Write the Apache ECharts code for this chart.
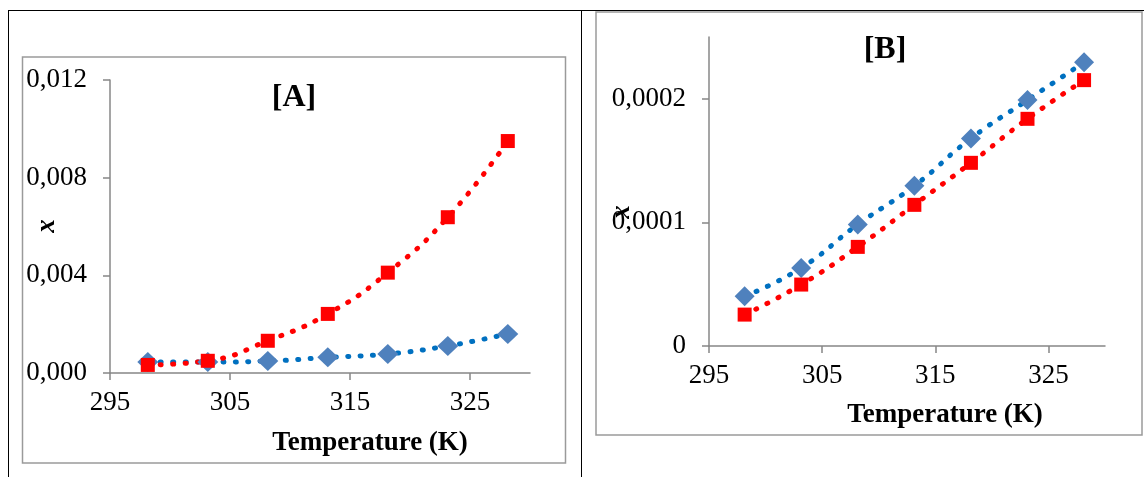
<!DOCTYPE html>
<html>
<head>
<meta charset="utf-8">
<script src="https://cdn.jsdelivr.net/npm/echarts@6/dist/echarts.min.js"></script>
<style>
html,body{margin:0;padding:0;background:#fff;}
#c{width:1144px;height:477px;}
</style>
</head>
<body>
<div id="c"></div>
<script>
// ---- data ----
const temps = [298.15, 303.15, 308.15, 313.15, 318.15, 323.15, 328.15];
const blueA = [0.00045, 0.00045, 0.00049, 0.00064, 0.00078, 0.00111, 0.0016];
const redA  = [0.00033, 0.0005, 0.00132, 0.00242, 0.00411, 0.00638, 0.0095];
const blueB = [0.0000402, 0.0000632, 0.0000983, 0.0001296, 0.0001679, 0.000199, 0.0002295];
const redB  = [0.0000254, 0.0000497, 0.0000802, 0.0001142, 0.0001482, 0.0001838, 0.0002151];
const xTicks  = [295, 305, 315, 325];
const yTicksA = [0, 0.004, 0.008, 0.012];
const yTicksB = [0, 0.0001, 0.0002];
const titleA = '[A]', titleB = '[B]';
const xName = 'Temperature (K)', yName = 'x';

const pairs = arr => temps.map((t, i) => [t, arr[i]]);
const FONT = '"Liberation Serif", "Times New Roman", serif';
const AX = '#878787';

function xAxis(gi) {
  return {
    type: 'value', gridIndex: gi, min: 295, max: 330,
    axisLine: {lineStyle: {color: AX, width: 1.5}},
    axisTick: {show: true, length: 7, lineStyle: {color: AX, width: 1.5}, customValues: xTicks},
    axisLabel: {customValues: xTicks, color: '#000', fontFamily: FONT, fontSize: 27, margin: 16},
    splitLine: {show: false}
  };
}
function yAxis(gi, max, ticks, fmt) {
  return {
    type: 'value', gridIndex: gi, min: 0, max: max,
    axisLine: {show: true, lineStyle: {color: AX, width: 1.5}},
    axisTick: {show: true, length: 7, lineStyle: {color: AX, width: 1.5}, customValues: ticks},
    axisLabel: {customValues: ticks, color: '#000', fontFamily: FONT, fontSize: 27, margin: 23, formatter: fmt},
    splitLine: {show: false}
  };
}
function trend(xi, data, color) {
  return {
    type: 'line', xAxisIndex: xi, yAxisIndex: xi, data: pairs(data), smooth: true,
    showSymbol: false, symbol: 'none', silent: true,
    lineStyle: {color: color, width: 5, type: [1, 11.5], cap: 'round'}, z: 2
  };
}
function pts(xi, data, color, symbol, size) {
  return {
    type: 'scatter', xAxisIndex: xi, yAxisIndex: xi, data: pairs(data),
    symbol: symbol, symbolSize: size, itemStyle: {color: color, opacity: 1}, z: 3
  };
}

const chart = echarts.init(document.getElementById('c'), null, {renderer: 'canvas'});
chart.setOption({
  animation: false,
  backgroundColor: '#fff',
  grid: [
    {left: 110, top: 80, width: 420, height: 293},
    {left: 709, top: 37, width: 396, height: 309}
  ],
  xAxis: [xAxis(0), xAxis(1)],
  yAxis: [
    yAxis(0, 0.012, yTicksA, v => v.toFixed(3).replace('.', ',')),
    yAxis(1, 0.00025, yTicksB, v => v === 0 ? '0' : v.toFixed(4).replace('.', ','))
  ],
  series: [
    trend(0, blueA, '#0070C0'),
    trend(0, redA, '#FF0000'),
    pts(0, blueA, '#4F81BD', 'diamond', [21, 20]),
    pts(0, redA, '#FF0000', 'rect', 14),
    trend(1, blueB, '#0070C0'),
    trend(1, redB, '#FF0000'),
    pts(1, blueB, '#4F81BD', 'diamond', [20, 20]),
    pts(1, redB, '#FF0000', 'rect', 14)
  ],
  graphic: [
    {type: 'line', shape: {x1: 8, y1: 10.5, x2: 1144, y2: 10.5}, style: {stroke: '#000', lineWidth: 1}, silent: true},
    {type: 'line', shape: {x1: 8.5, y1: 10, x2: 8.5, y2: 477}, style: {stroke: '#000', lineWidth: 1}, silent: true},
    {type: 'line', shape: {x1: 581.5, y1: 10, x2: 581.5, y2: 477}, style: {stroke: '#000', lineWidth: 1}, silent: true},
    {type: 'rect', shape: {x: 22.5, y: 57, width: 543, height: 406}, style: {fill: 'none', stroke: '#9a9a9a', lineWidth: 1.5}, silent: true},
    {type: 'rect', shape: {x: 596, y: 12, width: 546, height: 423}, style: {fill: 'none', stroke: '#9a9a9a', lineWidth: 1.5}, silent: true},
    {type: 'text', x: 294, y: 98, style: {text: titleA, font: 'bold 32px ' + FONT, fill: '#000', textAlign: 'center', textVerticalAlign: 'middle'}, silent: true},
    {type: 'text', x: 885, y: 50, style: {text: titleB, font: 'bold 32px ' + FONT, fill: '#000', textAlign: 'center', textVerticalAlign: 'middle'}, silent: true},
    {type: 'text', x: 370, y: 443, style: {text: xName, font: 'bold 27px ' + FONT, fill: '#000', textAlign: 'center', textVerticalAlign: 'middle'}, silent: true},
    {type: 'text', x: 945, y: 415, style: {text: xName, font: 'bold 27px ' + FONT, fill: '#000', textAlign: 'center', textVerticalAlign: 'middle'}, silent: true},
    {type: 'text', x: 47, y: 226, rotation: Math.PI / 2, style: {text: yName, font: 'italic bold 27px ' + FONT, fill: '#000', textAlign: 'center', textVerticalAlign: 'middle'}, silent: true},
    {type: 'text', x: 622, y: 212, rotation: Math.PI / 2, style: {text: yName, font: 'italic bold 27px ' + FONT, fill: '#000', textAlign: 'center', textVerticalAlign: 'middle'}, silent: true}
  ]
});
</script>
</body>
</html>
